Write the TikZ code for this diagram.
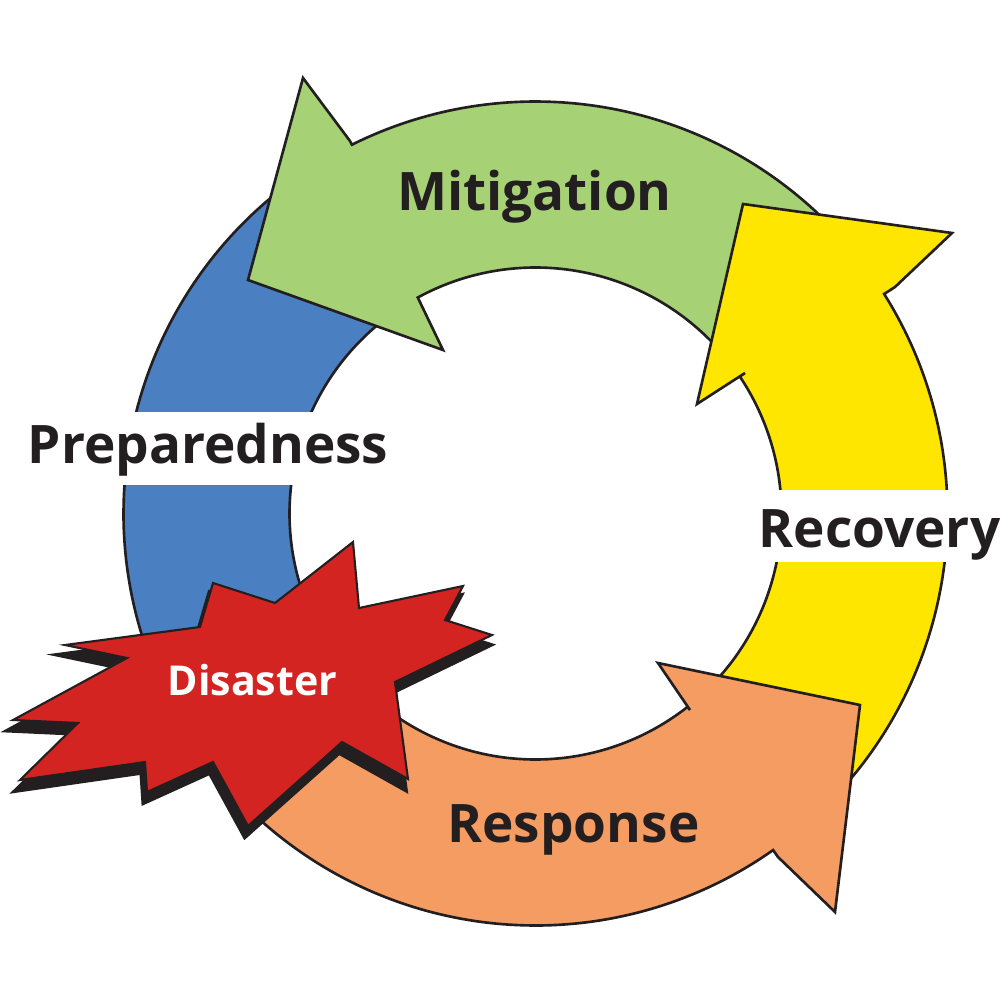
\documentclass[tikz,border=0pt]{standalone}
\usepackage{fontspec}
\setmainfont{Open Sans}
\begin{document}
\begin{tikzpicture}[x=0.01cm,y=-0.01cm,
  ring/.style={draw=outl, line width=0.75pt, line join=miter},
  lbl/.style={font=\fontsize{15.1}{18}\selectfont\bfseries, text=txt, inner sep=0pt, anchor=base},
  dlbl/.style={font=\fontsize{11.7}{14}\selectfont\bfseries, text=white, inner sep=0pt, anchor=base},
  band/.style={fill=white}]
\definecolor{cgreen}{HTML}{A6D175}
\definecolor{cblue}{HTML}{4A7FC2}
\definecolor{cyellow}{HTML}{FFE600}
\definecolor{corange}{HTML}{F59C62}
\definecolor{cred}{HTML}{D42421}
\definecolor{outl}{HTML}{231F20}
\definecolor{txt}{HTML}{231F20}
\def\cx{535.5}\def\cy{513.5}\def\ro{412}\def\ri{246}
\useasboundingbox (0,0) rectangle (1000,1000);
% Preparedness band (blue)
\filldraw[ring, fill=cblue]
  plot[domain=150:235, samples=80] ({\cx+\ro*cos(\x)},{\cy+\ro*sin(\x)})
  -- plot[domain=235:150, samples=80] ({\cx+\ri*cos(\x)},{\cy+\ri*sin(\x)}) -- cycle;
% Mitigation arrow (green)
\filldraw[ring, fill=cgreen]
  plot[domain=-35:-116.47, samples=80] ({\cx+\ro*cos(\x)},{\cy+\ro*sin(\x)})
  -- (350,141) -- (303,78) -- (248,280) -- (443,350) -- (418,298)
  -- plot[domain=-118.6:-35, samples=80] ({\cx+\ri*cos(\x)},{\cy+\ri*sin(\x)}) -- cycle;
% Recovery arrow (yellow)
\filldraw[ring, fill=cyellow]
  plot[domain=45:-32.2, samples=80] ({\cx+\ro*cos(\x)},{\cy+\ro*sin(\x)})
  -- (895,287) -- (952,233) -- (743,204) -- (697,404) -- (745,373)
  -- plot[domain=-33.85:45, samples=80] ({\cx+\ri*cos(\x)},{\cy+\ri*sin(\x)}) -- cycle;
% Response arrow (orange)
\filldraw[ring, fill=corange]
  plot[domain=145:54.78, samples=80] ({\cx+\ro*cos(\x)},{\cy+\ro*sin(\x)})
  -- (778,857) -- (835,912) -- (860,705) -- (658,663) -- (690,710)
  -- plot[domain=51.8:145, samples=80] ({\cx+\ri*cos(\x)},{\cy+\ri*sin(\x)}) -- cycle;
% white bands behind side labels
\fill[band] (20,412) rectangle (395,485);
\fill[band] (745,490) rectangle (1000,562);
% labels
\node[lbl] (mit) at (534.5,210) {Mitigation};
\node[lbl] (prep) at (208,463) {Preparedness};
\node[lbl] (rec) at (879.5,547) {Recovery};
\node[lbl] (resp) at (573.5,842) {Response};
% Disaster starburst: shadow then burst
\def\burst{(353,542) -- (359,608) -- (463,586) -- (445,620) -- (492,635) -- (395,682) -- (408,779) -- (342,742) -- (248,826) -- (213,762) -- (147,792) -- (145,762) -- (20,780) -- (78,723) -- (13,720) -- (127,658) -- (65,645) -- (200,627) -- (213,583) -- (275,603) -- cycle}
\begin{scope}[shift={(-3,10)}]
\filldraw[fill=outl, draw=outl, line width=1.5pt] \burst;
\end{scope}
\filldraw[fill=cred, draw=outl, line width=0.6pt] \burst;
\node[dlbl] (dis) at (252.5,695) {Disaster};
\end{tikzpicture}
\end{document}
